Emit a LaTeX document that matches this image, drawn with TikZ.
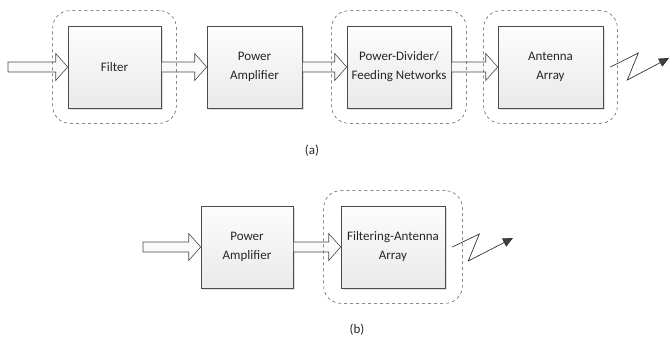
\documentclass[tikz,border=0pt]{standalone}
\usepackage{fontspec}
\setmainfont{Carlito}
\usetikzlibrary{arrows.meta,calc,fit,shadows}

\begin{document}
\begin{tikzpicture}[x=1pt,y=-1pt,
    font=\fontsize{13}{19}\selectfont, text=black!85,
    blk/.style={draw=black!70, line width=0.6pt, top color=gray!2,
      bottom color=gray!17, minimum height=82pt, align=center, inner sep=2pt,
      drop shadow={shadow xshift=1.6pt, shadow yshift=-1.6pt, opacity=0.25}},
    grp/.style={draw=black!70, line width=0.5pt, dashed, rounded corners=17pt,
      inner xsep=15pt, inner ysep=15pt},
    fatarw/.style={draw=black!70, line width=0.6pt, fill=gray!4, to path={
      let \p1=(\tikztostart), \p2=(\tikztotarget) in
      (\x1,\y1+5pt) -- (\x2-12pt,\y1+5pt) -- (\x2-12pt,\y1+13.5pt) -- (\x2,\y1)
      -- (\x2-12pt,\y1-13.5pt) -- (\x2-12pt,\y1-5pt) -- (\x1,\y1-5pt) -- cycle}},
    radio/.style={draw=black!80, line width=0.7pt,
      -{Triangle[length=10pt,width=9pt,fill=black!75]}}]
  \useasboundingbox (0,0) rectangle (670,339);
  % (a)
  \coordinate (ina) at (8,67);
  \node[blk, minimum width=93pt] (filter) at (114.5,67) {Filter};
  \node[blk, minimum width=95pt] (pa) at (254.5,67) {Power\\Amplifier};
  \node[blk, minimum width=104pt] (pd) at (399,67) {Power-Divider/\\Feeding Networks};
  \node[blk, minimum width=105pt] (ant) at (550.5,67) {Antenna\\Array};
  \coordinate (radA) at (669,58);
  \draw[fatarw] (ina) to (filter.west);
  \draw[fatarw] (filter.east) to (pa.west);
  \draw[fatarw] (pa.east) to (pd.west);
  \draw[fatarw] (pd.east) to (ant.west);
  \draw[radio] ([xshift=7pt]ant.east) -- ++(28,-14) -- ++(-11,27) -- (radA);
  \node[grp, fit=(filter)] (gfilter) {};
  \node[grp, inner xsep=15pt, fit=(pd)] (gpd) {};
  \node[grp, inner xsep=14pt, fit=(ant)] (gant) {};
  \node (capa) at (312,151) {(a)};
  % (b)
  \coordinate (inb) at (143,247);
  \node[blk, minimum width=92pt] (pab) at (247,247) {Power\\Amplifier};
  \node[blk, minimum width=104pt] (fa) at (393,247) {Filtering-Antenna\\Array};
  \coordinate (radB) at (513,238);
  \draw[fatarw] (inb) to (pab.west);
  \draw[fatarw] (pab.east) to (fa.west);
  \draw[radio] ([xshift=7pt]fa.east) -- ++(27,-13) -- ++(-11,27) -- (radB);
  \node[grp, inner xsep=17pt, fit=(fa)] (gfa) {};
  \node (capb) at (357,330) {(b)};
\end{tikzpicture}
\end{document}
